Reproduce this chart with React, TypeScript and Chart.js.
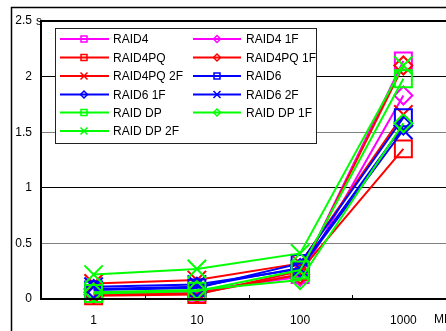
import React, { useEffect, useRef } from 'react';
import { Chart, registerables } from 'chart.js';

Chart.register(...registerables);

const categories = ['1', '10', '100', '1000'];
const yTicks = [0, 0.5, 1, 1.5, 2, 2.5];

const raid4 = [0.05, 0.06, 0.22, 2.14];
const raid4_1F = [0.06, 0.07, 0.2, 1.83];
const raid4PQ = [0.03, 0.04, 0.25, 1.35];
const raid4PQ_1F = [0.04, 0.05, 0.22, 2.1];
const raid4PQ_2F = [0.14, 0.17, 0.32, 1.66];
const raid6 = [0.08, 0.1, 0.32, 1.63];
const raid6_1F = [0.09, 0.11, 0.28, 1.56];
const raid6_2F = [0.11, 0.13, 0.27, 1.52];
const raidDP = [0.05, 0.07, 0.26, 1.98];
const raidDP_1F = [0.06, 0.08, 0.17, 1.58];
const raidDP_2F = [0.22, 0.27, 0.41, 2.1];

const MAGENTA = '#FF00FF';
const RED = '#FF0000';
const BLUE = '#0000FF';
const GREEN = '#00FF00';

const series = [
  { label: 'RAID4', data: raid4, color: MAGENTA, marker: 'square' },
  { label: 'RAID4 1F', data: raid4_1F, color: MAGENTA, marker: 'diamond' },
  { label: 'RAID4PQ', data: raid4PQ, color: RED, marker: 'square' },
  { label: 'RAID4PQ 1F', data: raid4PQ_1F, color: RED, marker: 'diamond' },
  { label: 'RAID4PQ 2F', data: raid4PQ_2F, color: RED, marker: 'cross' },
  { label: 'RAID6', data: raid6, color: BLUE, marker: 'square' },
  { label: 'RAID6 1F', data: raid6_1F, color: BLUE, marker: 'diamond' },
  { label: 'RAID6 2F', data: raid6_2F, color: BLUE, marker: 'cross' },
  { label: 'RAID DP', data: raidDP, color: GREEN, marker: 'square' },
  { label: 'RAID DP 1F', data: raidDP_1F, color: GREEN, marker: 'diamond' },
  { label: 'RAID DP 2F', data: raidDP_2F, color: GREEN, marker: 'cross' },
];

const FONT = '"Liberation Sans", Arial, sans-serif';

function drawMarker(ctx: CanvasRenderingContext2D, kind: string, x: number, y: number, r: number) {
  ctx.beginPath();
  if (kind === 'square') {
    ctx.rect(x - r, y - r, 2 * r, 2 * r);
  } else if (kind === 'diamond') {
    ctx.moveTo(x - r, y);
    ctx.lineTo(x, y - r);
    ctx.lineTo(x + r, y);
    ctx.lineTo(x, y + r);
    ctx.closePath();
  } else {
    ctx.moveTo(x - r, y - r);
    ctx.lineTo(x + r, y + r);
    ctx.moveTo(x + r, y - r);
    ctx.lineTo(x - r, y + r);
  }
  ctx.stroke();
}

const decorPlugin = {
  id: 'decor',
  beforeDraw(chart: any) {
    const ctx = chart.ctx as CanvasRenderingContext2D;
    ctx.save();
    ctx.fillStyle = '#fff';
    ctx.fillRect(0, 0, chart.width, chart.height);
    ctx.strokeStyle = '#000';
    ctx.lineWidth = 1.5;
    ctx.strokeRect(11.5, 7.5, 2000, 2000);
    ctx.fillStyle = '#000';
    ctx.font = '12px ' + FONT;
    ctx.textBaseline = 'middle';
    ctx.textAlign = 'left';
    ctx.fillText('s', 36, chart.chartArea.top + 1);
    ctx.restore();
  },
  afterDraw(chart: any) {
    const ctx = chart.ctx as CanvasRenderingContext2D;
    const { left, right, top, bottom } = chart.chartArea;
    const xs = chart.scales.x;
    ctx.save();
    ctx.strokeStyle = '#000';
    ctx.lineWidth = 2;
    ctx.beginPath();
    ctx.moveTo(left - 1, top);
    ctx.lineTo(right + 20, top);
    ctx.moveTo(left - 1, top - 1);
    ctx.lineTo(left - 1, bottom + 1);
    ctx.moveTo(left - 1, bottom);
    ctx.lineTo(right + 20, bottom);
    ctx.stroke();
    // inner tick marks between categories
    ctx.lineWidth = 1;
    ctx.beginPath();
    for (let i = 1; i < categories.length; i++) {
      const xPos = Math.round((xs.getPixelForValue(i - 1) + xs.getPixelForValue(i)) / 2) + 0.5;
      ctx.moveTo(xPos, bottom - 4);
      ctx.lineTo(xPos, bottom);
    }
    ctx.stroke();

    // x axis title (partly cut off)
    ctx.fillStyle = '#000';
    ctx.font = '12px ' + FONT;
    ctx.textBaseline = 'middle';
    ctx.textAlign = 'left';
    ctx.fillText('MB', 434, 320);

    // legend box
    const bx = 55.5, by = 28.5, bw = 261, bh = 115;
    ctx.fillStyle = '#fff';
    ctx.fillRect(bx, by, bw, bh);
    ctx.strokeStyle = '#222';
    ctx.lineWidth = 1;
    ctx.strokeRect(bx, by, bw, bh);
    const rowY = [39, 57.5, 76, 94.5, 112.5, 131];
    const cols = [{ l0: 60, l1: 109, m: 84, t: 113 }, { l0: 193, l1: 241, m: 217, t: 246 }];
    series.forEach((s, i) => {
      const c = cols[i % 2];
      const y = rowY[Math.floor(i / 2)];
      ctx.strokeStyle = s.color;
      ctx.lineWidth = 2;
      ctx.beginPath();
      ctx.moveTo(c.l0, y);
      ctx.lineTo(c.l1, y);
      ctx.stroke();
      ctx.lineWidth = 1.5;
      drawMarker(ctx, s.marker, c.m, y, s.marker === 'square' ? 3 : 3.5);
      ctx.fillStyle = '#000';
      ctx.font = '12px ' + FONT;
      ctx.textAlign = 'left';
      ctx.textBaseline = 'middle';
      ctx.fillText(s.label, c.t, y + 1);
    });
    ctx.restore();
  },
};

export default function App() {
  const ref = useRef<HTMLCanvasElement | null>(null);

  useEffect(() => {
    if (!ref.current) return;
    const chart = new Chart(ref.current, {
      type: 'line',
      data: {
        labels: categories,
        datasets: series.map((s, i) => ({
          label: s.label,
          data: s.data,
          borderColor: s.color,
          backgroundColor: 'transparent',
          borderWidth: 2,
          pointStyle: s.marker === 'square' ? 'rect' : s.marker === 'diamond' ? 'rectRot' : 'crossRot',
          pointRadius: s.marker === 'square' ? 12 : s.marker === 'diamond' ? 9 : 13,
          pointBorderWidth: 2,
          pointBorderColor: s.color,
          pointBackgroundColor: 'transparent',
          tension: 0,
          clip: false as any,
          order: 20 - i,
        })),
      },
      options: {
        animation: false,
        responsive: false,
        devicePixelRatio: 1,
        layout: { padding: { left: 0, top: 21, right: 14, bottom: 0 } },
        plugins: { legend: { display: false }, tooltip: { enabled: false } },
        scales: {
          x: {
            type: 'category',
            offset: true,
            grid: { display: false, drawTicks: false },
            border: { display: false },
            ticks: { color: '#000', font: { family: FONT, size: 12 }, padding: 14, maxRotation: 0 },
            afterFit: (scale: any) => { scale.height = 32; },
          },
          y: {
            min: 0,
            max: 2.5,
            afterBuildTicks: (scale: any) => { scale.ticks = yTicks.map((v) => ({ value: v })); },
            grid: {
              drawTicks: false,
              color: (c: any) => (c.tick && (c.tick.value === 1 || c.tick.value === 2) ? '#000' : '#808080'),
              lineWidth: 1,
            },
            border: { display: false },
            ticks: {
              color: '#000',
              font: { family: FONT, size: 12 },
              padding: 10,
              callback: (v: any) => String(v),
            },
            afterFit: (scale: any) => { scale.width = 42; },
          },
        },
      },
      plugins: [decorPlugin],
    });
    return () => chart.destroy();
  }, []);

  return (
    <div style={{ position: 'absolute', left: 0, top: 0, width: 446, height: 331, overflow: 'hidden', background: '#fff' }}>
      <canvas ref={ref} width={470} height={331} style={{ width: 470, height: 331, display: 'block' }} />
    </div>
  );
}
